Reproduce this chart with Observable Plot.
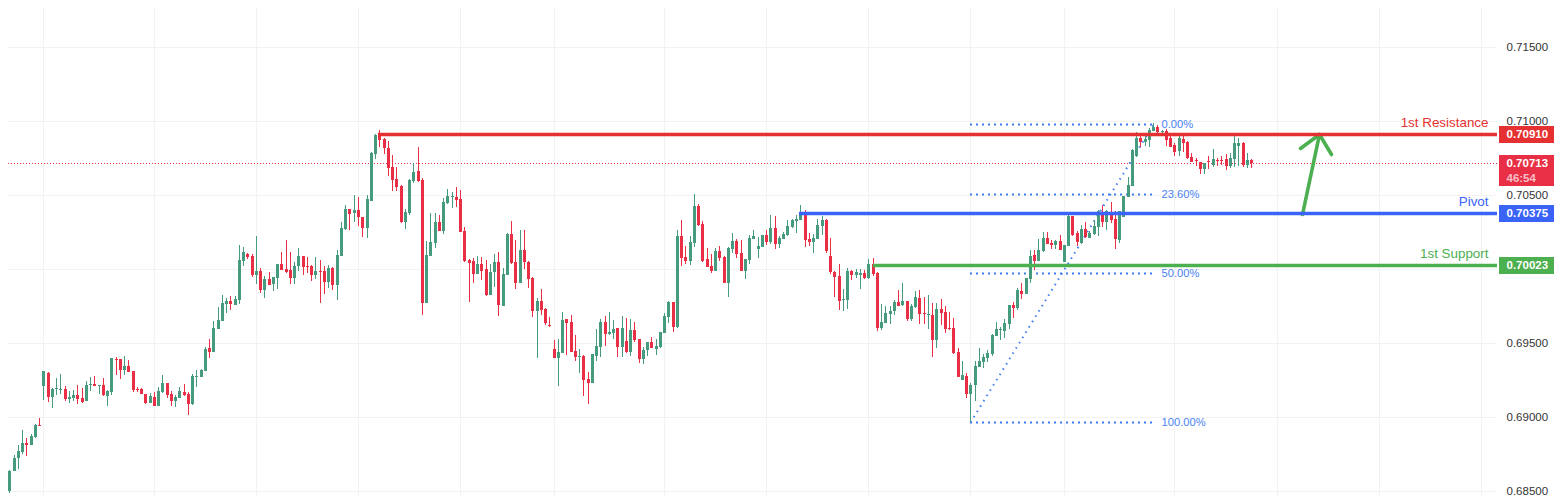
<!DOCTYPE html>
<html>
<head>
<meta charset="utf-8">
<script src="https://cdn.jsdelivr.net/npm/d3@7"></script>
<script src="https://cdn.jsdelivr.net/npm/@observablehq/plot@0.6"></script>
<style>html,body{margin:0;padding:0;background:#fff}svg{display:block}</style>
</head>
<body>
<div id="chart"></div>
<script>
// Prices are given in points (1 point = 0.00001)
const openPts = [
68503,68638,68726,68766,68825,68813,68865,68946,69212,69298,
69138,69189,69183,69190,69124,69129,69149,69129,69111,69216,
69223,69210,69217,69145,69172,69392,69392,69318,69345,69311,
69190,69190,69156,69095,69136,69075,69169,69230,69156,69109,
69129,69169,69156,69088,69270,69271,69311,69467,69440,69595,
69649,69764,69784,69757,69791,70054,70102,70088,69960,69987,
69858,69933,69899,69940,70034,70000,69994,69940,70021,70088,
70021,70021,69960,69987,69987,69913,70007,69892,70088,70271,
70406,70379,70399,70352,70277,70460,70777,70919,70879,70818,
70689,70608,70561,70318,70379,70595,70662,70602,69771,70088,
70176,70318,70257,70446,70487,70487,70473,70257,70061,70054,
69967,70034,70000,69825,69980,70048,69750,69960,70237,70048,
69906,70129,70048,69940,69717,69784,69730,69620,69460,69399,
69433,69663,69642,69446,69406,69413,69257,69230,69413,69473,
69642,69561,69567,69601,69473,69513,69439,69588,69527,69392,
69452,69507,69459,69473,69567,69675,69777,69608,70223,70081,
70054,70175,70425,70304,70067,70020,69986,70121,70081,69905,
70135,70189,70108,69986,70061,70202,70135,70148,70229,70182,
70277,70169,70202,70229,70283,70324,70331,70378,70202,70182,
70202,70290,70331,70088,69979,69952,69790,69790,69986,69959,
69959,69973,69939,70033,69973,69601,69635,69696,69716,69777,
69757,69784,69662,69743,69804,69703,69689,69689,69520,69730,
69709,69601,69601,69439,69250,69277,69155,69216,69338,69372,
69399,69426,69547,69590,69581,69628,69757,69736,69851,69831,
69932,70095,70054,70122,70209,70176,70162,70189,70047,70156,
70358,70243,70176,70270,70210,70237,70284,70385,70318,70385,
70338,70196,70351,70487,70561,70766,70886,70859,70872,70933,
70960,70928,70933,70886,70838,70798,70879,70859,70757,70735,
70723,70676,70730,70703,70735,70735,70744,70696,70744,70832,
70852,70703,70737];
const highPts = [
68642,68741,68811,68913,68859,68886,68953,68994,69311,69305,
69196,69264,69291,69210,69176,69183,69217,69196,69244,69271,
69277,69217,69264,69183,69399,69406,69392,69413,69386,69311,
69203,69196,69156,69163,69169,69203,69284,69230,69176,69149,
69203,69223,69169,69291,69318,69325,69473,69527,69649,69744,
69825,69804,69818,69818,70162,70149,70108,70102,70223,70007,
69953,69980,69946,70034,70115,70196,70115,70048,70142,70088,
70081,70027,70081,70061,70021,70027,70014,70129,70318,70433,
70406,70500,70487,70352,70500,70791,70912,70939,70885,70865,
70771,70689,70568,70406,70608,70716,70825,70615,70190,70379,
70379,70365,70480,70541,70521,70554,70534,70284,70068,70075,
70088,70081,70061,70034,70102,70115,70007,70244,70325,70196,
70264,70264,70054,69946,69804,69865,69737,69676,69521,69527,
69710,69663,69690,69554,69460,69419,69305,69426,69595,69662,
69682,69709,69655,69601,69682,69669,69662,69642,69527,69473,
69507,69540,69527,69574,69702,69783,69777,70263,70331,70155,
70223,70506,70439,70324,70142,70101,70142,70155,70088,70148,
70243,70202,70196,70067,70229,70263,70216,70229,70263,70365,
70358,70223,70250,70331,70338,70365,70432,70398,70243,70236,
70338,70358,70338,70209,69986,70033,69865,70006,69993,70000,
70000,69993,70067,70074,69979,69763,69750,69750,69790,69858,
69905,69784,69763,69851,69858,69811,69824,69770,69770,69797,
69750,69709,69669,69466,69378,69297,69230,69378,69466,69426,
69453,69561,69642,69608,69662,69757,69777,69872,69905,69939,
70128,70128,70203,70250,70250,70196,70196,70230,70162,70378,
70358,70257,70297,70318,70257,70331,70399,70433,70399,70453,
70392,70392,70493,70622,70811,70926,70899,70913,70953,70987,
70973,70940,70946,70913,70852,70906,70899,70865,70784,70748,
70723,70717,70764,70811,70751,70764,70778,70784,70906,70886,
70859,70784,70744];
const lowPts = [
68489,68638,68651,68753,68739,68813,68859,68939,69118,69104,
69064,69151,69156,69111,69097,69111,69091,69095,69111,69178,
69212,69156,69142,69077,69151,69284,69257,69284,69307,69172,
69172,69156,69088,69095,69075,69075,69163,69129,69075,69068,
69129,69142,69014,69082,69203,69271,69311,69399,69440,69595,
69649,69703,69723,69757,69764,70021,70068,69946,69899,69838,
69804,69892,69852,69865,69994,69973,69899,69899,69987,69960,
69973,69919,69933,69771,69831,69872,69858,69791,70088,70264,
70264,70318,70291,70217,70210,70460,70744,70825,70777,70629,
70527,70527,70311,70271,70365,70581,70588,69690,69771,70088,
70142,70257,70237,70440,70412,70419,70250,70048,69777,69906,
69967,69926,69818,69825,69879,69683,69750,69960,70034,69865,
69906,70000,69872,69676,69399,69690,69622,69609,69399,69210,
69433,69419,69440,69379,69298,69142,69088,69230,69379,69405,
69480,69554,69527,69405,69405,69432,69412,69507,69365,69358,
69412,69466,69419,69466,69567,69635,69574,69601,70020,70033,
70027,70148,70290,70047,70013,69973,69986,70054,69905,69811,
70108,70074,69986,69932,70033,70202,70074,70148,70162,70169,
70135,70142,70202,70223,70277,70243,70331,70148,70155,70108,
70202,70229,70108,69966,69811,69723,69716,69729,69925,69939,
69865,69932,69932,69952,69581,69588,69635,69628,69689,69750,
69750,69649,69649,69736,69628,69628,69595,69405,69466,69622,
69568,69588,69426,69270,69250,69128,68966,69108,69338,69331,
69372,69412,69547,69520,69534,69595,69669,69723,69797,69831,
69905,69993,70054,70115,70169,70135,70135,70129,70047,70156,
70223,70156,70169,70210,70210,70230,70223,70284,70264,70311,
70135,70176,70351,70487,70561,70760,70825,70832,70825,70933,
70919,70899,70832,70825,70764,70764,70791,70744,70723,70696,
70642,70642,70676,70690,70696,70703,70669,70683,70690,70696,
70690,70683,70683];
const closePts = [
68636,68723,68771,68825,68811,68872,68946,68939,69311,69138,
69190,69196,69190,69122,69136,69149,69122,69102,69217,69223,
69212,69217,69149,69176,69399,69385,69318,69345,69307,69183,
69183,69156,69095,69142,69075,69176,69230,69149,69109,69136,
69176,69149,69088,69277,69277,69318,69460,69440,69602,69656,
69771,69784,69764,69798,70061,70115,70081,69960,69987,69858,
69933,69892,69946,70034,69994,69980,69940,70021,70088,70014,
70014,69960,69987,69980,69913,70007,69892,70095,70277,70406,
70372,70399,70352,70277,70473,70784,70906,70872,70818,70683,
70602,70554,70318,70385,70602,70656,70595,69771,70095,70183,
70318,70257,70453,70494,70494,70467,70250,70054,70041,69967,
70034,69987,69825,69980,70048,69757,69967,70237,70041,69906,
70129,70048,69933,69717,69784,69723,69636,69613,69399,69440,
69656,69636,69440,69406,69413,69250,69230,69426,69480,69642,
69561,69574,69594,69473,69601,69439,69588,69520,69392,69452,
69507,69466,69480,69574,69682,69777,69608,70223,70074,70054,
70182,70425,70297,70054,70013,69986,70121,70074,69905,70142,
70189,70101,69986,70067,70209,70223,70155,70229,70182,70277,
70169,70209,70236,70290,70331,70338,70378,70196,70182,70209,
70297,70331,70121,69979,69946,69783,69797,69986,69959,69979,
69973,69939,70033,69966,69601,69642,69702,69716,69777,69750,
69784,69662,69750,69811,69696,69696,69696,69520,69730,69703,
69595,69595,69432,69270,69284,69155,69216,69345,69378,69405,
69432,69554,69595,69597,69635,69757,69736,69858,69831,69939,
70088,70054,70128,70209,70169,70162,70189,70129,70162,70358,
70230,70183,70270,70216,70243,70291,70392,70318,70392,70331,
70203,70392,70493,70568,70805,70886,70859,70879,70940,70960,
70926,70935,70872,70825,70791,70886,70852,70751,70723,70728,
70676,70717,70723,70744,70728,70728,70696,70751,70852,70852,
70703,70737,70713];

const priceGrid = [0.715, 0.71, 0.705, 0.7, 0.695, 0.69, 0.685];
const priceTickLabels = [0.715, 0.71, 0.705, 0.695, 0.69, 0.685];
const timeGrid = [8, 34, 58, 82, 106, 128, 154, 178, 202, 226, 248, 274, 298, 322, 346];
const resistance = [{name: "1st Resistance", price: 0.7091, from: 86.7, color: "#e53131", labelPrice: 0.70992}];
const lowerLevels = [
  {name: "Pivot", price: 0.70375, from: 185.7, color: "#3a63f8", labelPrice: 0.70457},
  {name: "1st Support", price: 0.70023, from: 203, color: "#4caf50", labelPrice: 0.70105}
];
const lastPrice = 0.70713;
const countdown = "46:54";
const fibLevels = [
  {label: "0.00%", price: 0.7098},
  {label: "23.60%", price: 0.70505},
  {label: "50.00%", price: 0.69974},
  {label: "100.00%", price: 0.68968}
];
const fibStart = 225.9, fibEnd = 268.9, fibLabelAt = 270.8;
const arrowShaft = [{x: 303.9, y: 0.70375}, {x: 307.9, y: 0.7091}];
const arrowHead = [{x: 303.5, y: 0.7082}, {x: 307.9, y: 0.7091}, {x: 310.7, y: 0.70775}];

const paneLeft = -0.3, paneRight = 349.85, paneTop = 0.7177, paneBottom = 0.68459;
const axisBoxFrom = 350.3, axisBoxTo = 363.2, axisTextAt = 351.95, labelAt = 347.7;

const UP = "#469b7f", DOWN = "#e92f46", GRID = "#f2f2f2", FIB = "#3f7df2";
const FONT = "'Liberation Sans', sans-serif";
const AXIS_SIZE = 11.5;

const candles = openPts.map((o, i) => ({
  i, open: o / 1e5, high: highPts[i] / 1e5, low: lowPts[i] / 1e5, close: closePts[i] / 1e5
}));
const ups = candles.filter(d => d.close >= d.open);
const downs = candles.filter(d => d.close < d.open);
const fmt = d3.format(".5f");

function levelMarks(data, dy) {
  return [
    Plot.ruleY(data, {y: "price", x1: "from", x2: paneRight, stroke: "color", strokeWidth: 3.4, dy}),
    Plot.text(data, {x: labelAt, y: "labelPrice", text: "name", textAnchor: "end", fill: "color", fontSize: 13.4, fontFamily: FONT}),
    Plot.ruleY(data, {y: "price", x1: axisBoxFrom, x2: axisBoxTo, stroke: "color", strokeWidth: 17, dy}),
    Plot.text(data, {x: axisTextAt, y: "price", text: d => fmt(d.price), textAnchor: "start", fill: "#fff", fontSize: AXIS_SIZE, fontWeight: 600, fontFamily: FONT, dy})
  ];
}

const chart = Plot.plot({
  width: 1562, height: 504,
  marginTop: 0, marginRight: 0, marginBottom: 0, marginLeft: 0,
  style: {background: "#fff"},
  x: {axis: null, domain: [-2.187, 365.13], range: [0, 1562], round: true},
  y: {axis: null, domain: [0.684122, 0.718176], range: [504, 0], round: true},
  marks: [
    Plot.ruleX(timeGrid, {x: d => d, y1: paneBottom, y2: paneTop, stroke: GRID}),
    Plot.ruleY(priceGrid, {y: d => d, x1: paneLeft, x2: paneRight, stroke: GRID}),
    // last price dotted line
    Plot.ruleY([lastPrice], {x1: paneLeft, x2: paneRight, stroke: DOWN, strokeDasharray: "1 2"}),
    // fibonacci
    Plot.ruleY(fibLevels, {y: "price", x1: fibStart, x2: fibEnd, stroke: FIB, strokeWidth: 2, strokeDasharray: "2 4"}),
    Plot.line([{x: fibStart, y: fibLevels[3].price}, {x: fibEnd, y: fibLevels[0].price}], {x: "x", y: "y", stroke: FIB, strokeWidth: 2, strokeDasharray: "1.5 4.7", strokeLinecap: "butt"}),
    Plot.text(fibLevels, {x: fibLabelAt, y: "price", text: "label", textAnchor: "start", fill: "#4a82f2", fontSize: 11.2, fontFamily: FONT}),
    // candles
    Plot.ruleX(ups, {x: "i", y1: "low", y2: "high", stroke: UP}),
    Plot.ruleX(downs, {x: "i", y1: "low", y2: "high", stroke: DOWN}),
    Plot.ruleX(ups, {x: "i", y1: "open", y2: "close", stroke: UP, strokeWidth: 3}),
    Plot.ruleX(downs, {x: "i", y1: "open", y2: "close", stroke: DOWN, strokeWidth: 3}),
    // arrow
    Plot.line(arrowShaft, {x: "x", y: "y", stroke: "#4caf50", strokeWidth: 3.6, strokeLinecap: "round"}),
    Plot.line(arrowHead, {x: "x", y: "y", stroke: "#4caf50", strokeWidth: 3.6, strokeLinecap: "round", strokeLinejoin: "round"}),
    // axis
    Plot.text(priceTickLabels, {x: axisTextAt, y: d => d, text: fmt, textAnchor: "start", fill: "#333", fontSize: AXIS_SIZE, fontFamily: FONT}),
    // levels
    ...levelMarks(resistance, 0),
    ...levelMarks(lowerLevels, -1),
    Plot.ruleY([lastPrice], {x1: axisBoxFrom, x2: axisBoxTo, stroke: DOWN, strokeWidth: 31, dy: 7}),
    Plot.text([lastPrice], {x: axisTextAt, y: d => d, text: fmt, textAnchor: "start", fill: "#fff", fontSize: AXIS_SIZE, fontWeight: 600, fontFamily: FONT}),
    Plot.text([lastPrice], {x: axisTextAt, y: d => d, dy: 15, text: () => countdown, textAnchor: "start", fill: "#fff", fillOpacity: 0.7, fontSize: AXIS_SIZE, fontWeight: 600, fontFamily: FONT})
  ]
});
document.getElementById("chart").append(chart);
</script>
</body>
</html>
